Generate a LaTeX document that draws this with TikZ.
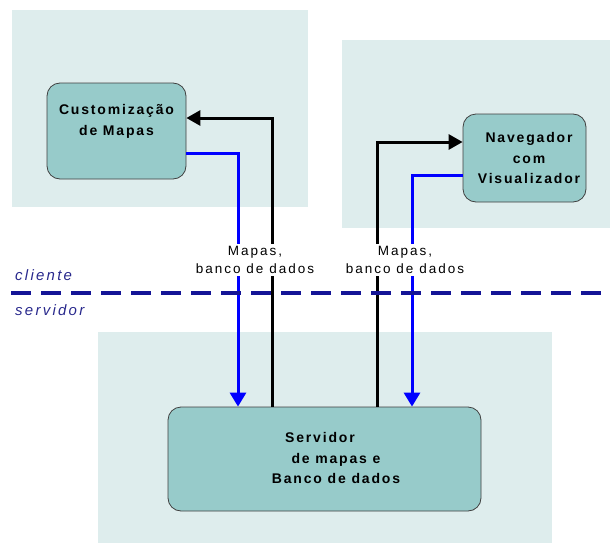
\documentclass[tikz,border=0pt]{standalone}
\usepackage{fontspec}
\setmainfont{Liberation Sans}
\usetikzlibrary{arrows.meta}
\definecolor{panel}{HTML}{DEEDED}
\definecolor{boxfill}{HTML}{97CBCA}
\definecolor{navyline}{RGB}{20,20,150}
\definecolor{navytext}{RGB}{40,40,140}
\begin{document}
\begin{tikzpicture}[x=1pt,y=-1pt,
  panelbg/.style={fill=panel,draw=none},
  proc/.style={draw=black!75,line width=0.8pt,fill=boxfill,rounded corners=13pt,inner sep=0pt},
  proctext/.style={font=\fontsize{14}{20.5}\selectfont\bfseries\addfontfeatures{LetterSpace=13},align=center,inner sep=0pt},
  lbl/.style={font=\fontsize{13.5}{17.5}\selectfont\addfontfeatures{LetterSpace=15},align=center,fill=white,inner sep=3pt},
  side/.style={font=\fontsize{15}{18}\selectfont\itshape\addfontfeatures{LetterSpace=15},text=navytext,anchor=west,inner sep=0pt},
  blk/.style={draw=black,line width=3pt,-{Triangle[length=14pt,width=15pt]}},
  blu/.style={draw=blue,line width=3pt,-{Triangle[length=14pt,width=16pt]}},
  divider/.style={draw=navyline,line width=4pt,dash pattern=on 20pt off 10pt},
  ]
\useasboundingbox (0,0) rectangle (610,543);
% panels
\fill[panelbg] (12,10) rectangle (308,207);
\fill[panelbg] (342,40) rectangle (610,228);
\fill[panelbg] (98,332) rectangle (552,543);
% boxes
\node[proc,minimum width=139pt,minimum height=96pt] (cm) at (116.5,131) {};
\node[proctext] (cmt) at (116.5,121.5) {Customização\\de Mapas};
\node[proc,minimum width=123pt,minimum height=88pt] (nav) at (524.5,158) {};
\node[proctext] (navt) at (529,158) {Navegador\\com\\Visualizador};
\node[proc,minimum width=313pt,minimum height=104pt] (srv) at (324.5,459) {};
\node[proctext] (srvt) at (336,458) {Servidor\hspace*{32pt}\\de mapas e\hspace*{8pt}\\Banco de dados};
% bend coordinates
\coordinate (b1) at (272,118);
\coordinate (b2) at (238,153);
\coordinate (b3) at (377,142);
\coordinate (b4) at (412,175);
% connectors
\draw[blk] (srv.north -| b1) |- (cm.east |- b1);
\draw[blu] (cm.east |- b2) -| (srv.north -| b2);
\draw[blk] (srv.north -| b3) |- (nav.west |- b3);
\draw[blu] (nav.west |- b4) -| (srv.north -| b4);
% divider
\coordinate (dl) at (11,293);
\coordinate (dr) at (610,293);
\draw[divider] (dl) -- (dr);
% labels
\node[lbl] (lb1) at (255,260) {Mapas,\\banco de dados};
\node[lbl] (lb2) at (405,260) {Mapas,\\banco de dados};
\node[side] (cli) at (15,275) {cliente};
\node[side] (srvl) at (15,310) {servidor};
\end{tikzpicture}
\end{document}
